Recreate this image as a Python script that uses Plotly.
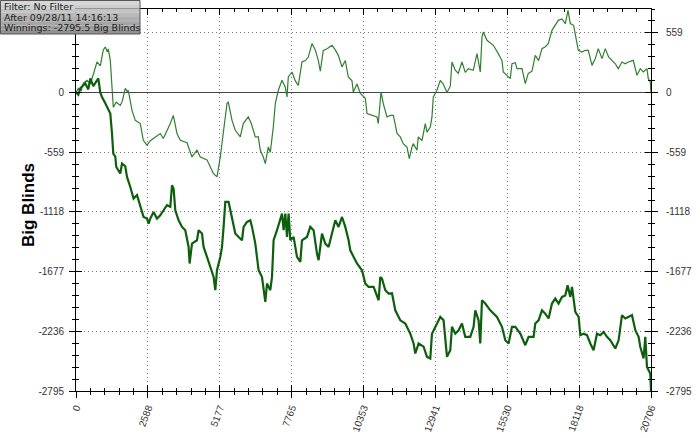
import plotly.graph_objects as go

# ---- data ----
upper_hands = [0, 83, 191, 263, 396, 515, 623, 756, 875, 983, 1055, 1127, 1163, 1235, 1343, 1451,
               1595, 1667, 1775, 1847, 1883, 2017, 2135, 2315, 2423, 2557, 2675, 2855, 3035, 3144,
               3396, 3504, 3637, 3756, 3997, 4177, 4357, 4476, 4717, 4944, 5077, 5196, 5304, 5438,
               5484, 5618, 5736, 5916, 6024, 6204, 6312, 6457, 6565, 6637, 6745, 6817, 6925, 6997,
               7105, 7177, 7285, 7418, 7537, 7598, 7645, 7778, 7897, 8005, 8138, 8257, 8365, 8498,
               8617, 8725, 8797, 8905, 9039, 9219, 9338, 9446, 9579, 9698, 9806, 9939, 9986, 10119,
               10238, 10418, 10479, 10706, 10839, 10886, 10983, 11066, 11199, 11318, 11426, 11498,
               11559, 11678, 11786, 11919, 12002, 12099, 12146, 12279, 12326, 12459, 12578, 12639,
               12758, 12819, 12866, 12999, 13118, 13226, 13359, 13478, 13539, 13658, 13766, 13899,
               14018, 14126, 14306, 14440, 14486, 14558, 14620, 14666, 14800, 15027, 15207, 15340,
               15387, 15520, 15639, 15700, 15819, 15880, 16060, 16179, 16287, 16420, 16539, 16658,
               16780, 16899, 17007, 17140, 17259, 17367, 17501, 17620, 17717, 17800, 17919, 17980,
               18088, 18221, 18340, 18448, 18581, 18700, 18808, 18941, 19060, 19179, 19301, 19420,
               19528, 19661, 19780, 19888, 20068, 20201, 20320, 20428, 20561, 20608, 20680, 20706]
upper_bb = [0, 40, 20, 90, 115, 80, 170, 287, 250, 400, 427, 380, 410, 302, -137, -90,
            -120, -80, 40, 10, 20, -166, -260, -290, -447, -493, -450, -420, -383, -430,
            -290, -213, -383, -447, -470, -603, -540, -603, -630, -756, -790, -603, -383, -100,
            -90, -260, -353, -415, -290, -228, -290, -415, -415, -540, -603, -665, -509, -560,
            -322, -103, 22, 115, 50, -41, 146, 193, 110, 68, 287, 300, 333, 459,
            400, 302, 200, 396, 410, 443, 400, 349, 240, 300, 146, 110, 6, 80,
            -7, -53, -197, -213, -228, -290, 6, -103, -228, -213, -213, -300,
            -383, -415, -478, -510, -618, -510, -478, -540, -415, -450, -290, -370,
            -322, -228, -41, 22, 115, 80, 0, 60, 287, 209, 180, 287,
            190, 224, 209, 365, 300, 193, 521, 568, 490, 443, 365, 300,
            193, 160, 131, 271, 280, 224, 224, 84, 180, 200, 349, 300,
            412, 430, 459, 583, 630, 677, 690, 646, 770, 646, 630, 552,
            396, 380, 396, 396, 255, 318, 412, 318, 412, 333, 302, 270,
            224, 287, 270, 287, 302, 162, 224, 193, 224, 131, 99, 0]

lower_hands = [0, 83, 155, 335, 443, 515, 623, 731, 803, 875, 936, 1055, 1116, 1235, 1296, 1343,
               1415, 1451, 1595, 1656, 1775, 1837, 1955, 2074, 2197, 2315, 2434, 2557, 2614, 2675,
               2794, 2917, 3035, 3154, 3277, 3396, 3457, 3515, 3576, 3695, 3817, 3936, 4055, 4091,
               4177, 4357, 4415, 4537, 4595, 4717, 4836, 4955, 5016, 5077, 5196, 5257, 5315, 5376,
               5495, 5618, 5736, 5855, 5978, 6035, 6158, 6277, 6338, 6457, 6575, 6698, 6755, 6817,
               6878, 6997, 7058, 7116, 7238, 7357, 7418, 7476, 7537, 7598, 7656, 7717, 7836, 7958,
               8077, 8138, 8318, 8437, 8556, 8678, 8736, 8858, 8977, 9096, 9219, 9338, 9456, 9579,
               9697, 9816, 9877, 9996, 10119, 10299, 10418, 10537, 10717, 10897, 10958, 11019,
               11138, 11257, 11379, 11498, 11678, 11858, 12038, 12157, 12218, 12337, 12517, 12639,
               12758, 12819, 12999, 13118, 13237, 13359, 13478, 13539, 13658, 13777, 13899, 14018,
               14198, 14317, 14378, 14497, 14558, 14620, 14738, 14918, 15160, 15340, 15459, 15578,
               15700, 15819, 15999, 16179, 16298, 16478, 16539, 16658, 16780, 16899, 17018, 17140,
               17259, 17378, 17501, 17620, 17703, 17800, 17861, 17919, 17980, 18099, 18160, 18279,
               18401, 18520, 18638, 18761, 18880, 18999, 19121, 19240, 19420, 19539, 19661, 19780,
               20022, 20141, 20260, 20320, 20439, 20500, 20561, 20619, 20680, 20706]
lower_bb = [0, -20, 40, 87, 30, 133, 60, 100, 133, 0, -41, -100, -135, -197, -383, -572,
            -600, -697, -758, -665, -690, -790, -884, -993, -960, -1055, -1165, -1180, -1227, -1180,
            -1118, -1180, -1150, -1102, -1055, -1070, -868, -900, -1102, -1196, -1258, -1290, -1446, -1601,
            -1414, -1383, -1289, -1320, -1446, -1539, -1633, -1727, -1851, -1664, -1539, -1446, -1258, -1024,
            -1024, -1165, -1320, -1352, -1383, -1258, -1211, -1196, -1258, -1414, -1664, -1727, -1820, -1960,
            -1789, -1851, -1727, -1383, -1289, -1196, -1133, -1289, -1133, -1352, -1133, -1383, -1352, -1539,
            -1586, -1383, -1352, -1258, -1289, -1508, -1570, -1320, -1414, -1446, -1320, -1196, -1258, -1165,
            -1258, -1383, -1477, -1539, -1601, -1664, -1789, -1820, -1820, -1945, -1727, -1742,
            -1851, -1883, -1880, -2039, -2133, -2163, -2258, -2350, -2444, -2350, -2380, -2475,
            -2490, -2258, -2163, -2101, -2133, -2475, -2413, -2194, -2258, -2227, -2163, -2288,
            -2288, -2194, -2039, -2133, -2350, -1945, -1976, -2039, -2101, -2194, -2320, -2350,
            -2194, -2194, -2258, -2366, -2288, -2288, -2163, -2133, -2039, -2070, -2116, -1976,
            -1929, -1976, -1914, -1900, -1804, -1914, -1820, -1914, -2054, -2101, -2272, -2258,
            -2272, -2350, -2413, -2258, -2272, -2241, -2288, -2320, -2397, -2320, -2085, -2116,
            -2085, -2226, -2288, -2381, -2490, -2288, -2569, -2600, -2631, -2795.5]

y_ticks = [-2795, -2236, -1677, -1118, -559, 0, 559]
y_ticktext_left = ["-2795", "-2236", "-1677", "-1118", "-559", "0", ""]  # 559 hidden under the info box
y_ticktext_right = ["-2795", "-2236", "-1677", "-1118", "-559", "0", "559"]
x_ticks = [0, 2588, 5177, 7765, 10353, 12941, 15530, 18118, 20706]
info_lines = ["Filter: No Filter", "After 09/28/11 14:16:13", "Winnings: -2795.5 Big Blinds"]
y_title = "Big Blinds"

# ---- figure ----
W, H = 700, 438
ML, MR, MT, MB = 76, 49, 9, 47
PW, PH = W - ML - MR, H - MT - MB


def px_x(px):
    return (px - ML) / PW


def px_y(py):
    return (H - MB - py) / PH


XR = [0, 20706]
YR = [-2795, 783]

fig = go.Figure()
fig.add_trace(go.Scatter(x=upper_hands, y=upper_bb, mode="lines",
                         line=dict(color="#2f7f2f", width=1.2), hoverinfo="skip"))
fig.add_trace(go.Scatter(x=lower_hands, y=lower_bb, mode="lines",
                         line=dict(color="#0d5f0d", width=2.2), hoverinfo="skip"))
# empty helper traces so the overlay axes (for crossing ticks) are drawn
for xa, ya in [("x2", "y3"), ("x3", "y4"), ("x", "y2")]:
    fig.add_trace(go.Scatter(x=[None], y=[None], xaxis=xa, yaxis=ya, mode="lines",
                             showlegend=False, hoverinfo="skip"))

tickfont = dict(family="Liberation Sans, Arial", size=10, color="#333333")
common_x = dict(range=XR, tickvals=x_ticks, showline=True, linecolor="black", linewidth=1,
                zeroline=False, tickcolor="black", ticklen=6, tickwidth=1, automargin=False)
common_y = dict(range=YR, tickvals=y_ticks, showline=True, linecolor="black", linewidth=1,
                tickcolor="black", ticklen=6, tickwidth=1, automargin=False)

fig.update_layout(
    width=W, height=H, margin=dict(l=ML, r=MR, t=MT, b=MB, autoexpand=False),
    paper_bgcolor="white", plot_bgcolor="white", showlegend=False,
    xaxis=dict(**common_x, side="bottom", ticks="outside", ticktext=[str(v) for v in x_ticks],
               tickangle=-70, tickfont=tickfont, showgrid=True, gridcolor="#777777",
               griddash="1px,3px", gridwidth=1,
               minor=dict(ticks="outside", ticklen=3, tick0=0, dtick=20706 / 40, tickcolor="black")),
    xaxis2=dict(**common_x, overlaying="x", side="bottom", anchor="y", ticks="inside",
                showticklabels=False, showgrid=False,
                minor=dict(ticks="inside", ticklen=3, tick0=0, dtick=20706 / 40, tickcolor="black")),
    xaxis3=dict(**common_x, overlaying="x", side="top", anchor="y", ticks="inside",
                showticklabels=False, showgrid=False,
                minor=dict(ticks="inside", ticklen=3, tick0=0, dtick=20706 / 40, tickcolor="black")),
    yaxis=dict(**common_y, side="left", ticks="outside", tickfont=tickfont,
               ticktext=y_ticktext_left,
               ticklabelstandoff=3, showgrid=True, gridcolor="#777777", griddash="1px,3px",
               gridwidth=1, zeroline=True, zerolinecolor="#444444", zerolinewidth=1,
               minor=dict(ticks="outside", ticklen=3, tick0=0, dtick=111.8, tickcolor="black")),
    yaxis2=dict(**common_y, overlaying="y", side="right", anchor="x", ticks="outside",
                ticktext=y_ticktext_right,
                tickfont=tickfont, ticklabelstandoff=6, showgrid=False, zeroline=False,
                minor=dict(ticks="outside", ticklen=3, tick0=0, dtick=111.8, tickcolor="black")),
    yaxis3=dict(**common_y, overlaying="y", side="left", anchor="x2", ticks="inside",
                showticklabels=False, showgrid=False, zeroline=False,
                minor=dict(ticks="inside", ticklen=3, tick0=0, dtick=111.8, tickcolor="black")),
    yaxis4=dict(**common_y, overlaying="y", side="right", anchor="x3", ticks="inside",
                showticklabels=False, showgrid=False, zeroline=False,
                minor=dict(ticks="inside", ticklen=3, tick0=0, dtick=111.8, tickcolor="black")),
)

# y-axis title
fig.add_annotation(text="<b>" + y_title + "</b>", xref="paper", yref="paper",
                   x=px_x(28), y=px_y(205), textangle=-90, showarrow=False,
                   xanchor="center", yanchor="middle",
                   font=dict(family="Liberation Sans, Arial", size=17, color="black"))

# info box (gray gradient made of bands)
bx0, bx1, by0, by1 = 0, 140, 0, 34
n = 8
for i in range(n):
    t = i / (n - 1)
    g = int(215 - t * 70)
    fig.add_shape(type="rect", xref="paper", yref="paper", layer="above",
                  x0=px_x(bx0), x1=px_x(bx1),
                  y0=px_y(by0 + (by1 - by0) * i / n), y1=px_y(by0 + (by1 - by0) * (i + 1) / n),
                  fillcolor=f"rgb({g},{g},{g})", line=dict(width=0))
fig.add_shape(type="rect", xref="paper", yref="paper", layer="above",
              x0=px_x(bx0 + 0.5), x1=px_x(bx1), y0=px_y(by0 + 0.5), y1=px_y(by1),
              fillcolor="rgba(0,0,0,0)", line=dict(color="#555555", width=1))
for i, line in enumerate(info_lines):
    fig.add_annotation(text=line, xref="paper", yref="paper", x=px_x(2), y=px_y(6.5 + 10.5 * i),
                       xanchor="left", yanchor="middle", showarrow=False,
                       font=dict(family="DejaVu Sans", size=9.5, color="#222222"))

fig.write_html("out.html", config={"displayModeBar": False},
               post_script="document.body.style.margin='0px';document.body.style.overflow='hidden';")
